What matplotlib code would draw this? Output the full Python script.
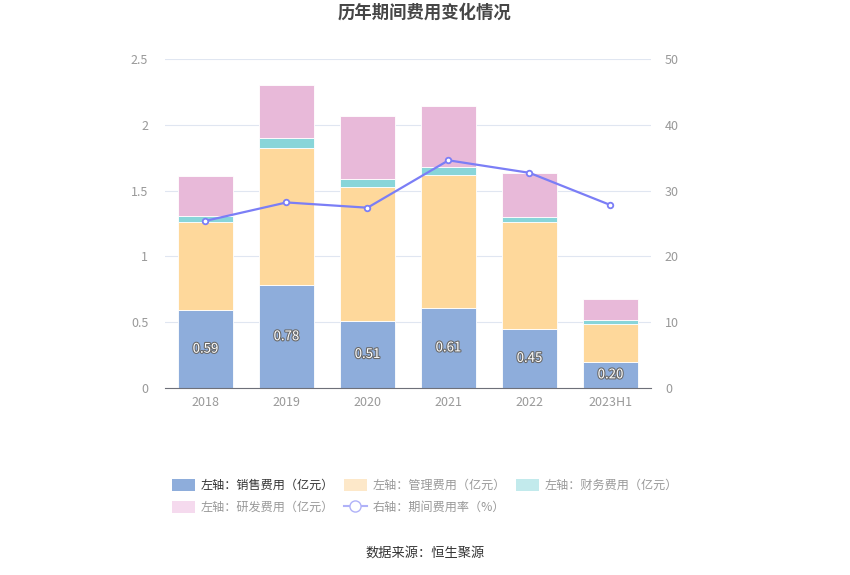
import matplotlib.pyplot as plt
import matplotlib.patheffects as pe
from matplotlib.patches import Patch
from matplotlib.lines import Line2D
import numpy as np

plt.rcParams['font.family'] = ['Noto Sans CJK SC', 'DejaVu Sans']

years = ["2018", "2019", "2020", "2021", "2022", "2023H1"]
sales = [0.59, 0.78, 0.51, 0.61, 0.45, 0.20]
admin = [0.67, 1.04, 1.02, 1.01, 0.81, 0.29]
finance = [0.05, 0.08, 0.06, 0.06, 0.04, 0.025]
rnd = [0.30, 0.40, 0.48, 0.46, 0.33, 0.16]
rate = [25.4, 28.2, 27.4, 34.6, 32.7, 27.8]

c_sales = "#8eaddb"
c_admin = "#fed89b"
c_fin = "#88d5d9"
c_rnd = "#e8b9d9"
c_line = "#7b7ef6"

fig = plt.figure(figsize=(8.5, 5.75), dpi=100)
ax = fig.add_axes([165 / 850, 1 - 388 / 575, 486 / 850, 329 / 575])
ax2 = ax.twinx()

x = np.arange(len(years))
w = 0.69
b1 = np.array(sales)
b2 = b1 + np.array(admin)
b3 = b2 + np.array(finance)
ax.bar(x, sales, w, color=c_sales, edgecolor="white", linewidth=0.6, zorder=2)
ax.bar(x, admin, w, bottom=b1, color=c_admin, edgecolor="white", linewidth=0.6, zorder=2)
ax.bar(x, finance, w, bottom=b2, color=c_fin, edgecolor="white", linewidth=0.6, zorder=2)
ax.bar(x, rnd, w, bottom=b3, color=c_rnd, edgecolor="white", linewidth=0.6, zorder=2)

for xi, v in zip(x, sales):
    ax.text(xi, v / 2, f"{v:.2f}", ha="center", va="center", fontsize=9.5,
            color="white", zorder=5,
            path_effects=[pe.withStroke(linewidth=1.6, foreground="#6a6a6a")])

ax2.plot(x, rate, color=c_line, linewidth=1.6, marker="o", markersize=4,
         markerfacecolor="white", markeredgecolor=c_line, markeredgewidth=1.3, zorder=6)

ax.set_xlim(-0.5, len(years) - 0.5)
ax.set_ylim(0, 2.5)
ax2.set_ylim(0, 50)
ax.set_yticks([0, 0.5, 1, 1.5, 2, 2.5])
ax.set_yticklabels(["0", "0.5", "1", "1.5", "2", "2.5"])
ax2.set_yticks([0, 10, 20, 30, 40, 50])
ax.set_xticks(x)
ax.set_xticklabels(years)
ax.grid(axis="y", color="#e0e6f1", linewidth=0.8, zorder=0)
ax.set_axisbelow(True)

for a in (ax, ax2):
    for s in ("top", "left", "right", "bottom"):
        a.spines[s].set_visible(False)
    a.tick_params(length=0, colors="#999999", labelsize=9)
ax.spines["bottom"].set_visible(True)
ax.spines["bottom"].set_color("#6e7079")
ax.tick_params(axis="x", pad=6)
ax.tick_params(axis="y", pad=12)
ax2.tick_params(axis="y", pad=10)

fig.text(0.5, 1 - 13 / 575, "历年期间费用变化情况", ha="center", va="center",
         fontsize=12.5, fontweight="bold", color="#464646")

handles = [
    Patch(facecolor=c_sales, edgecolor="none"),
    Patch(facecolor="#fde8c9", edgecolor="none"),
    Patch(facecolor="#c2eaec", edgecolor="none"),
    Patch(facecolor="#f5daee", edgecolor="none"),
    Line2D([0], [0], color="#b0b2f8", linewidth=1.5, marker="o", markersize=8,
           markerfacecolor="white", markeredgecolor="#b0b2f8"),
]
labels = ["左轴：销售费用（亿元）", "左轴：管理费用（亿元）", "左轴：财务费用（亿元）",
          "左轴：研发费用（亿元）", "右轴：期间费用率（%）"]
order = [0, 3, 1, 4, 2]
leg = fig.legend([handles[i] for i in order], [labels[i] for i in order],
                 loc="upper left", bbox_to_anchor=(161 / 850, 1 - 468 / 575),
                 ncol=3, frameon=False, fontsize=8.7, handlelength=1.9, handleheight=1.15,
                 columnspacing=0.85, handletextpad=0.45, labelspacing=0.75)
for i, t in zip(order, leg.get_texts()):
    t.set_color("#333333" if i == 0 else "#999999")

fig.text(0.5, 1 - 553 / 575, "数据来源：恒生聚源", ha="center", va="center",
         fontsize=9.5, color="#333333")

fig.savefig("out.png", dpi=100)
